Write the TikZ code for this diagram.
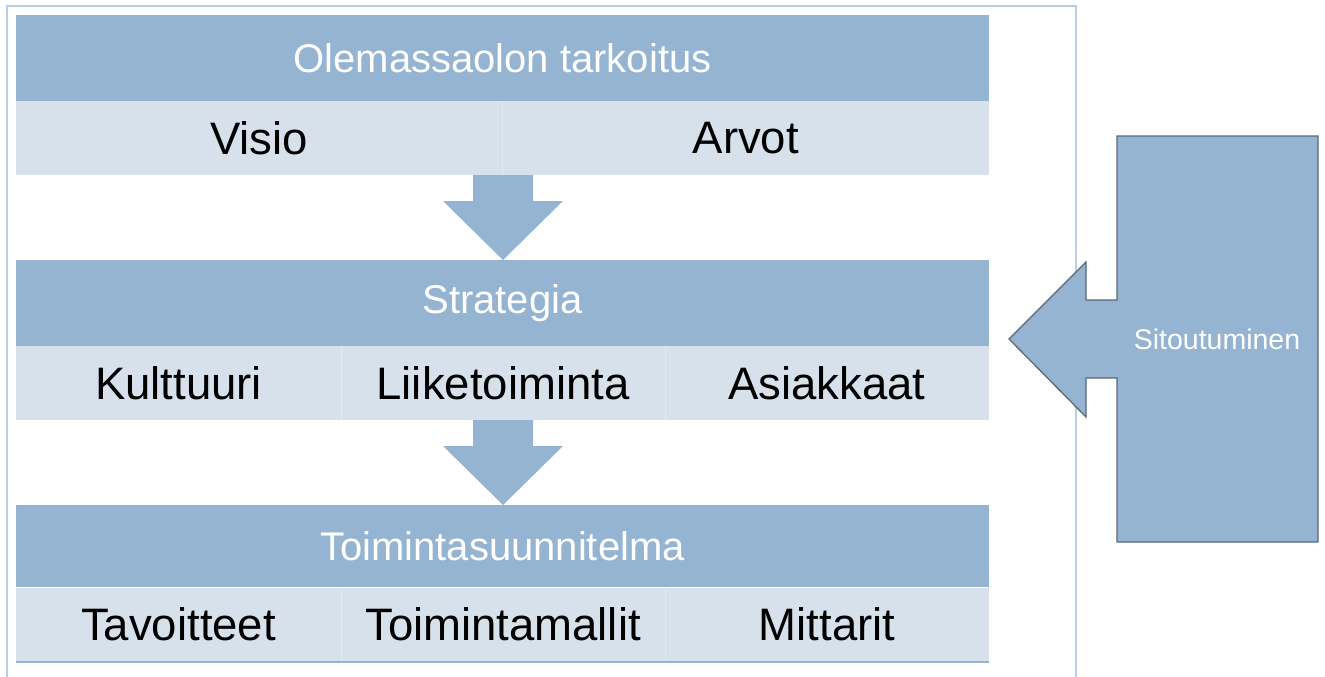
\documentclass[tikz,border=0pt]{standalone}
\usepackage{fontspec}
\setmainfont{Liberation Sans}
\usetikzlibrary{calc}
\definecolor{bandDark}{RGB}{148,180,210}
\definecolor{bandLight}{RGB}{214,225,236}
\definecolor{frameBlue}{RGB}{186,206,226}
\definecolor{edgeGray}{RGB}{90,104,120}
\definecolor{cellLine}{RGB}{226,233,241}
\tikzset{
  hdr/.style={fill=bandDark, draw=none, inner sep=0pt, minimum width=973pt, minimum height=86pt,
    text=white, font=\fontsize{40}{45}\selectfont},
  cell/.style={fill=bandLight, draw=none, inner sep=0pt, minimum height=74pt,
    text=black, font=\fontsize{45.5}{50}\selectfont},
  blockarrow/.style={fill=bandDark, draw=none},
  callout/.style={fill=bandDark, draw=edgeGray, line width=1.3pt, line join=miter},
  sidetext/.style={text=white, inner sep=0pt, font=\fontsize{28.5}{33}\selectfont},
  cellsep/.style={draw=cellLine, line width=1.2pt},
}
\begin{document}
\begin{tikzpicture}[x=1pt,y=-1pt]
\useasboundingbox (0,0) rectangle (1325,677);
% outer frame (open at the bottom)
\draw[frameBlue, line width=2pt] (7,677) -- (7,6) -- (1076,6) -- (1076,677);

% band 1
\node[hdr] (h1) at (502.5,58) {Olemassaolon tarkoitus};
\node[cell, minimum width=486.5pt] (visio) at (259.25,138) {Visio};
\node[cell, minimum width=486.5pt] (arvot) at (745.75,138) {Arvot};
\draw[cellsep] (visio.north east) -- (visio.south east);

% band 2
\node[hdr] (h2) at (502.5,303) {Strategia};
\node[cell, minimum width=325pt] (kult) at (178.5,383) {Kulttuuri};
\node[cell, minimum width=324pt] (liik) at (503,383) {Liiketoiminta};
\node[cell, minimum width=324pt] (asia) at (827,383) {Asiakkaat};
\draw[cellsep] (kult.north east) -- (kult.south east);
\draw[cellsep] (liik.north east) -- (liik.south east);

% band 3
\node[hdr, minimum height=82pt] (h3) at (502.5,546) {Toimintasuunnitelma};
\node[cell, minimum width=325pt] (tavo) at (178.5,624.5) {Tavoitteet};
\node[cell, minimum width=324pt] (toim) at (503,624.5) {Toimintamallit};
\node[cell, minimum width=324pt] (mitt) at (827,624.5) {Mittarit};
\draw[cellsep] (tavo.north east) -- (tavo.south east);
\draw[cellsep] (toim.north east) -- (toim.south east);
\draw[bandDark, line width=2pt] (tavo.south west) -- (mitt.south east);

% block arrows between the bands
\fill[blockarrow] (473,175) -- (533,175) -- (533,201) -- (563,201) -- (503,260)
  -- (443,201) -- (473,201) -- cycle;
\fill[blockarrow] (473,420) -- (533,420) -- (533,446) -- (563,446) -- (503,505)
  -- (443,446) -- (473,446) -- cycle;

% commitment callout pointing at the strategy band
\draw[callout] (1117,136) -- (1318,136) -- (1318,542) -- (1117,542) -- (1117,378)
  -- (1086,378) -- (1086,417) -- (1009,339) -- (1086,262) -- (1086,300)
  -- (1117,300) -- cycle;
\node[sidetext] (sit) at (1217,339) {Sitoutuminen};
\end{tikzpicture}
\end{document}
